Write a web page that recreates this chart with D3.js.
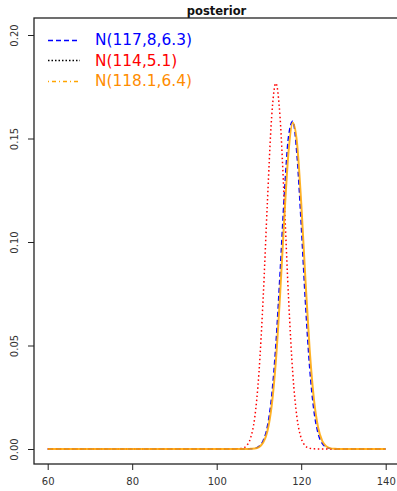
<!DOCTYPE html>
<html>
<head>
<meta charset="utf-8">
<script src="https://cdn.jsdelivr.net/npm/d3@7"></script>
<style>
  body { margin: 0; background: #fff; }
  svg { display: block; font-family: "DejaVu Sans", sans-serif; }
</style>
</head>
<body>
<div id="chart"></div>
<script>
const xs = [60, 104, 105, 106, 107, 108, 109, 110, 111, 112, 113, 114, 115, 116, 117,
  118, 119, 120, 121, 122, 123, 124, 125, 126, 127, 128, 129, 130, 140];

// N(117.8, 6.3) blue dashed
const blueY = [0, 0, 0, 0, 0, 0.0001, 0.0003, 0.0013, 0.0041, 0.011, 0.0255, 0.0505, 0.0853,
  0.1229, 0.151, 0.1584, 0.1417, 0.1082, 0.0705, 0.0392, 0.0186, 0.0075, 0.0026, 0.0008,
  0.0002, 0, 0, 0, 0];
// N(114, 5.1) red dotted
const redY = [0, 0, 0.0001, 0.0003, 0.0015, 0.0052, 0.0152, 0.0368, 0.0731, 0.1194, 0.1602,
  0.1767, 0.1602, 0.1194, 0.0731, 0.0368, 0.0152, 0.0052, 0.0015, 0.0003, 0.0001, 0, 0, 0,
  0, 0, 0, 0, 0];
// N(118.1, 6.4) orange
const orangeY = [0, 0, 0, 0, 0, 0.0001, 0.0002, 0.0009, 0.0031, 0.0086, 0.0207, 0.0424,
  0.0744, 0.1117, 0.1435, 0.1576, 0.148, 0.119, 0.0818, 0.0481, 0.0242, 0.0104, 0.0038,
  0.0012, 0.0003, 0.0001, 0, 0, 0];

const xTicks = [60, 80, 100, 120, 140];
const yTicks = [0, 0.05, 0.1, 0.15, 0.2];
const legendLabels = ["N(117,8,6.3)", "N(114,5.1)", "N(118.1,6.4)"];

const W = 397, H = 491;
const box = { left: 34, top: 18, right: 399, bottom: 464 };

const svg = d3.select("#chart").append("svg")
  .attr("width", W).attr("height", H);

const x = d3.scaleLinear().domain([60, 140]).range([47.7, 385.7]);
const y = d3.scaleLinear().domain([0, 0.2]).range([449, 35]);

// title
svg.append("text")
  .attr("x", (box.left + box.right) / 2)
  .attr("y", 15)
  .attr("text-anchor", "middle")
  .attr("font-weight", "bold")
  .attr("font-size", 11.5)
  .attr("fill", "#111")
  .text("posterior");

// curves
const line = d3.line()
  .x((d, i) => x(xs[i]))
  .y(d => y(d))
  .curve(d3.curveMonotoneX);

svg.append("path").datum(blueY)
  .attr("d", line).attr("fill", "none")
  .attr("stroke", "#0000ff").attr("stroke-width", 1.4)
  .attr("stroke-dasharray", "5,3");

svg.append("path").datum(redY)
  .attr("d", line).attr("fill", "none")
  .attr("stroke", "#ff0000").attr("stroke-width", 1.5)
  .attr("stroke-dasharray", "1.5,2.6");

svg.append("path").datum(orangeY)
  .attr("d", line).attr("fill", "none")
  .attr("stroke", "#ffa500").attr("stroke-width", 2)
  .attr("stroke-opacity", 0.85);

// box
svg.append("rect")
  .attr("x", box.left).attr("y", box.top)
  .attr("width", box.right - box.left).attr("height", box.bottom - box.top)
  .attr("fill", "none").attr("stroke", "#222").attr("stroke-width", 1.3);

// x axis
const gx = svg.append("g")
  .attr("transform", `translate(0,${box.bottom})`)
  .call(d3.axisBottom(x).tickValues(xTicks).tickSize(6).tickPadding(8).tickFormat(d3.format("d")));
gx.select(".domain").remove();
gx.selectAll(".tick line").attr("stroke", "#222");
gx.selectAll("text").attr("font-size", 10).attr("fill", "#333")
  .attr("font-family", "DejaVu Sans, sans-serif");

// y axis
const gy = svg.append("g")
  .attr("transform", `translate(${box.left},0)`)
  .call(d3.axisLeft(y).tickValues(yTicks).tickSize(6).tickFormat(d3.format(".2f")));
gy.select(".domain").remove();
gy.selectAll(".tick line").attr("stroke", "#222");
gy.selectAll("text")
  .attr("font-size", 10).attr("fill", "#333")
  .attr("font-family", "DejaVu Sans, sans-serif")
  .attr("transform", "rotate(-90)")
  .attr("x", 0).attr("y", -16).attr("dy", 0)
  .attr("text-anchor", "middle");

// legend
const legendColors = ["#0000ff", "#000000", "#ffa500"];
const legendDash = ["5,3", "1.5,2", "1,3,4,3"];
const textColors = ["#0000ff", "#ff0000", "#ff8c00"];
const lg = svg.append("g");
legendLabels.forEach((lab, i) => {
  const yy = 39.5 + i * 20.5;
  lg.append("line")
    .attr("x1", 48).attr("x2", 80).attr("y1", Math.round(yy) + 0.5).attr("y2", Math.round(yy) + 0.5)
    .attr("stroke", legendColors[i]).attr("stroke-width", 1.3)
    .attr("stroke-dasharray", legendDash[i]);
  lg.append("text")
    .attr("x", 95).attr("y", yy + 5.5)
    .attr("font-size", 15.4)
    .attr("fill", textColors[i])
    .text(lab);
});
</script>
</body>
</html>
